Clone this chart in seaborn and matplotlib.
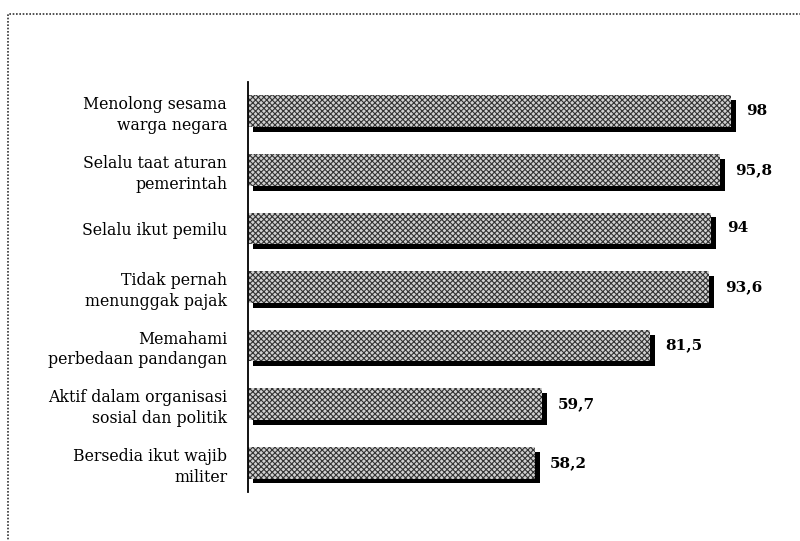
import matplotlib
matplotlib.use("Agg")
import matplotlib.pyplot as plt
import matplotlib.transforms as mtransforms
from matplotlib.patches import Rectangle
import seaborn as sns
import pandas as pd

# data
kategori = ["Menolong sesama\nwarga negara",
            "Selalu taat aturan\npemerintah",
            "Selalu ikut pemilu",
            "Tidak pernah\nmenunggak pajak",
            "Memahami\nperbedaan pandangan",
            "Aktif dalam organisasi\nsosial dan politik",
            "Bersedia ikut wajib\nmiliter"]
nilai = [98, 95.8, 94, 93.6, 81.5, 59.7, 58.2]
label_nilai = ["98", "95,8", "94", "93,6", "81,5", "59,7", "58,2"]

df = pd.DataFrame({"kategori": kategori, "nilai": nilai})

sns.set_style("white")
plt.rcParams["font.family"] = ["DejaVu Serif"]
plt.rcParams["hatch.linewidth"] = 0.8

fig = plt.figure(figsize=(8, 5.41), dpi=100)
ax = fig.add_axes([248 / 800, 49 / 541, 493 / 800, 410 / 541])

# bayangan hitam (kanan & bawah)
sns.barplot(data=df, x="nilai", y="kategori", color="black", width=0.54,
            linewidth=0, ax=ax, orient="h")
n_shadow = len(ax.patches)
offset = mtransforms.ScaledTranslation(3.5 / 72, -3.5 / 72, fig.dpi_scale_trans)
for p in ax.patches:
    p.set_transform(ax.transData + offset)

# batang utama berpola titik
sns.barplot(data=df, x="nilai", y="kategori", color="#d0d0d0", width=0.54,
            edgecolor="#333333", linewidth=0, ax=ax, orient="h")
for p in ax.patches[n_shadow:]:
    p.set_hatch("xxxxxx")
    p.set_facecolor("#d0d0d0")

for i, (v, t) in enumerate(zip(nilai, label_nilai)):
    ax.annotate(t, xy=(v, i), xytext=(11, 0), textcoords="offset points",
                va="center", ha="left", fontsize=11, fontweight="bold",
                color="black")

ax.set_xlim(0, 100)
ax.set_ylim(6.5, -0.5)
ax.set_xlabel("")
ax.set_ylabel("")
ax.set_xticks([])
for s in ["top", "right", "bottom"]:
    ax.spines[s].set_visible(False)
ax.spines["left"].set_linewidth(1.3)
ax.spines["left"].set_color("black")

ax.set_yticks(range(len(kategori)))
ax.set_yticklabels(kategori, fontsize=11.3, linespacing=1.3, color="black")
ax.tick_params(axis="y", which="major", length=0, pad=15)
ax.set_yticks([i - 0.5 for i in range(len(kategori) + 1)], minor=True)
ax.tick_params(axis="y", which="minor", length=6, width=1.3, color="black")

# bingkai titik-titik
fig.patches.append(Rectangle((8 / 800, -0.1), 1.2, 1 - 14 / 541 + 0.1,
                             transform=fig.transFigure, fill=False,
                             linestyle=(0, (1, 1)), linewidth=1.2,
                             edgecolor="#333333"))

fig.savefig("out.png", dpi=100)
